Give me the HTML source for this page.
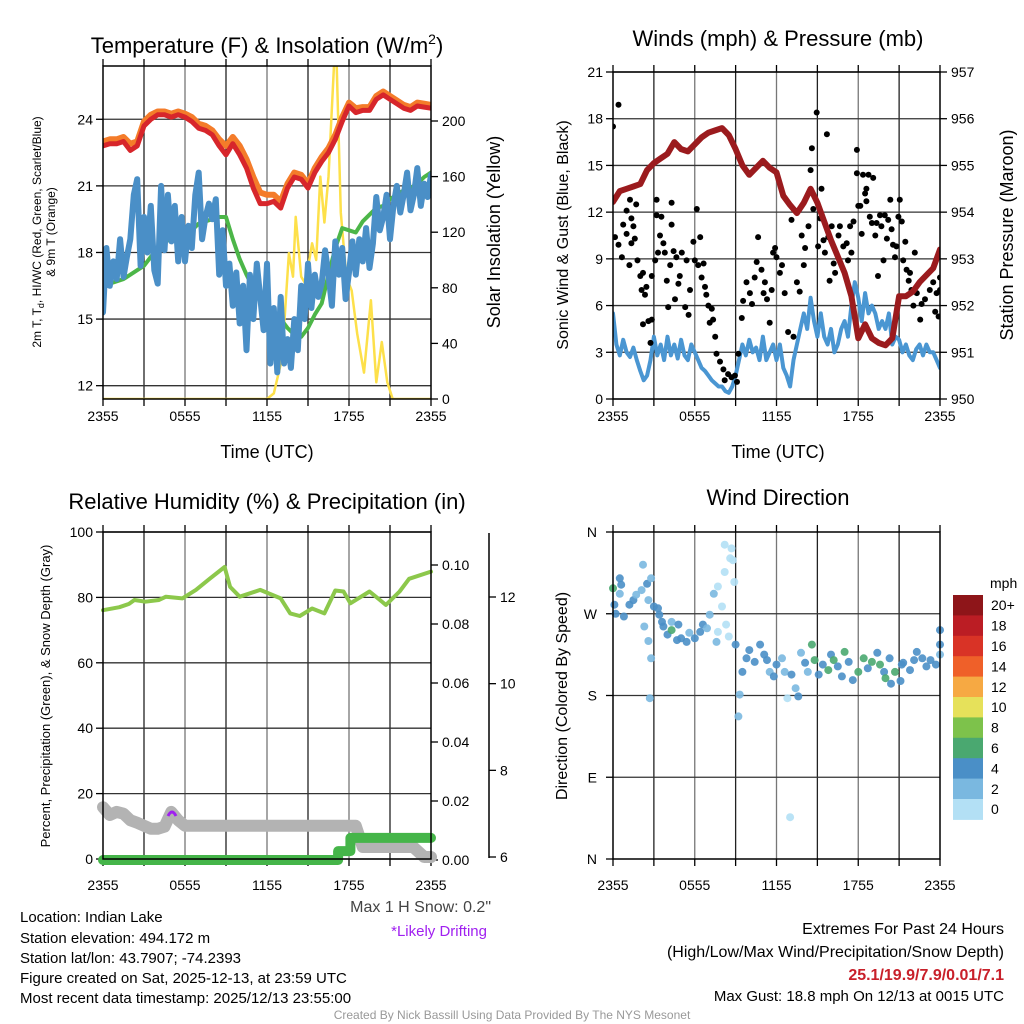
<!DOCTYPE html>
<html><head><meta charset="utf-8"><title>Indian Lake Meteogram</title>
<style>
html,body{margin:0;padding:0;background:#fff;}
svg{display:block;font-family:"Liberation Sans",Arial,sans-serif;}
</style></head>
<body>
<svg id="chart" xmlns="http://www.w3.org/2000/svg" width="1024" height="1024" viewBox="0 0 1024 1024">
<rect x="0" y="0" width="1024" height="1024" fill="#fff"/>
<defs>
<clipPath id="c1"><rect x="103" y="66" width="328" height="333"/></clipPath>
<clipPath id="c2"><rect x="613" y="72" width="327" height="327"/></clipPath>
<clipPath id="c3"><rect x="90" y="520" width="355" height="352"/></clipPath>
<clipPath id="c4"><rect x="603" y="522" width="347" height="347"/></clipPath>
</defs>
<g font-size="22" text-anchor="middle" fill="#000">
<text x="267" y="53">Temperature (F) &amp; Insolation (W/m<tspan font-size="14" dy="-9">2</tspan><tspan dy="9">)</tspan></text>
<text x="778" y="46">Winds (mph) &amp; Pressure (mb)</text>
<text x="267" y="509">Relative Humidity (%) &amp; Precipitation (in)</text>
<text x="778" y="505">Wind Direction</text>
</g>
<g font-size="18" text-anchor="middle">
<text x="267" y="458">Time (UTC)</text>
<text x="778" y="458">Time (UTC)</text>
<text transform="translate(500,232) rotate(-90)">Solar Insolation (Yellow)</text>
<text transform="translate(1013,235) rotate(-90)">Station Pressure (Maroon)</text>
</g>
<g font-size="16" text-anchor="middle">
<text transform="translate(568,235) rotate(-90)">Sonic Wind &amp; Gust (Blue, Black)</text>
<text transform="translate(567,696) rotate(-90)">Direction (Colored By Speed)</text>
</g>
<g font-size="12" text-anchor="middle">
<text transform="translate(41,232) rotate(-90)">2m T, T<tspan font-size="9" dy="3">d</tspan><tspan dy="-3">, HI/WC (Red, Green, Scarlet/Blue)</tspan></text>
<text transform="translate(55,232) rotate(-90)">&amp; 9m T (Orange)</text>
<text transform="translate(50,696) rotate(-90)" font-size="13">Percent, Precipitation (Green), &amp; Snow Depth (Gray)</text>
</g>
<g font-size="15" fill="#000">
<text x="20" y="922">Location: Indian Lake</text>
<text x="20" y="943">Station elevation: 494.172 m</text>
<text x="20" y="963">Station lat/lon: 43.7907; -74.2393</text>
<text x="20" y="983">Figure created on Sat, 2025-12-13, at 23:59 UTC</text>
<text x="20" y="1003">Most recent data timestamp: 2025/12/13 23:55:00</text>
<text x="491" y="912" text-anchor="end" fill="#444" font-size="16">Max 1 H Snow: 0.2"</text>
<text x="487" y="936" text-anchor="end" fill="#a020f0">*Likely Drifting</text>
<text x="1004" y="934" text-anchor="end" font-size="16">Extremes For Past 24 Hours</text>
<text x="1004" y="957" text-anchor="end" font-size="16">(High/Low/Max Wind/Precipitation/Snow Depth)</text>
<text x="1004" y="980" text-anchor="end" font-size="16" font-weight="bold" fill="#c8202a">25.1/19.9/7.9/0.01/7.1</text>
<text x="1004" y="1001" text-anchor="end">Max Gust: 18.8 mph On 12/13 at 0015 UTC</text>
<text x="512" y="1019" text-anchor="middle" font-size="12" fill="#999">Created By Nick Bassill Using Data Provided By The NYS Mesonet</text>
</g>
</svg>
<script>
// ---------- DATA ----------
const xTickLabels = ["2355","0555","1155","1755","2355"];
const tempTicks = [12,15,18,21,24];
const solarTicks = [0,40,80,120,160,200];
const windTicks = [0,3,6,9,12,15,18,21];
const pressTicks = [950,951,952,953,954,955,956,957];
const rhTicks = [0,20,40,60,80,100];
const precipTicks = [0.00,0.02,0.04,0.06,0.08,0.10];
const snowTicks = [6,8,10,12];
const dirTickLabels = ["N","E","S","W","N"];
const dirTickValues = [0,90,180,270,360];

const tempRed = [22.8,22.9,22.9,23.0,22.6,22.8,23.7,24.0,24.2,24.2,24.1,24.2,24.1,23.9,23.6,23.5,23.3,22.8,22.4,22.9,22.4,21.8,20.9,20.2,20.2,20.3,20.0,20.9,21.4,21.3,20.9,21.6,22.1,22.5,23.1,23.9,24.6,24.3,24.4,24.4,24.9,25.1,24.9,24.7,24.5,24.4,24.6,24.55,24.5];
const temp9m = [23.0,23.1,23.1,23.2,22.9,23.0,23.9,24.2,24.35,24.35,24.25,24.35,24.25,24.1,23.8,23.7,23.5,23.1,22.8,23.2,22.8,22.2,21.4,20.7,20.6,20.6,20.3,21.1,21.6,21.5,21.1,21.8,22.3,22.7,23.3,24.1,24.75,24.5,24.55,24.55,25.05,25.25,25.05,24.85,24.65,24.55,24.75,24.7,24.65];
const dewpoint = [16.4,16.6,16.7,16.8,17.0,17.2,17.4,17.8,18.2,18.5,18.6,18.7,18.8,19.0,19.3,19.4,19.5,19.6,19.6,18.6,17.7,17.0,16.4,16.0,15.5,15.3,15.0,14.6,14.3,14.2,14.6,15.2,15.7,17.0,18.2,19.1,19.0,18.9,19.4,19.7,20.0,20.1,20.4,20.6,20.8,20.9,21.1,21.4,21.6];
const windChill = [15.3,18.2,16.5,17.6,16.8,18.6,16.9,17.8,18.6,20.6,21.3,17.4,19.6,18.0,20.1,17.2,16.6,21.0,18.1,20.6,18.5,20.1,17.6,19.6,17.6,19.2,18.2,20.6,21.6,18.6,19.6,20.2,19.5,20.4,17.0,19.0,16.5,17.5,15.6,17.1,14.8,16.5,13.6,17.0,15.0,17.5,16.0,14.5,17.5,13.0,15.5,12.6,16.0,13.0,14.1,12.8,15.0,13.6,16.5,15.0,17.5,15.5,17.0,16.0,16.6,18.1,17.0,15.6,18.5,17.0,18.2,15.9,17.1,18.5,17.0,18.6,17.6,19.1,17.3,18.4,20.5,19.0,19.6,20.6,18.6,20.1,21.0,19.8,20.6,21.6,19.9,20.6,21.8,20.1,21.1,20.5,21.5];
const solarHours = [0,12,12.5,13,13.3,13.6,13.9,14.1,14.5,14.8,15.3,15.6,15.9,16.2,16.5,16.9,17.1,17.4,17.8,18.2,18.6,19.1,19.6,20.0,20.4,20.8,21.2,24];
const solarValues = [0,0,4,25,60,105,88,131,88,83,112,100,160,127,160,240,240,134,88,78,47,19,71,12,41,12,0,0];

const sonicWind = [5.5,3.5,2.8,3.8,3.0,2.7,3.3,2.5,1.8,1.2,1.5,2.5,4.0,2.8,3.5,2.5,4.0,2.8,3.5,2.6,3.8,2.8,2.5,3.5,3.0,2.5,2.0,1.8,1.5,1.2,1.0,0.8,0.8,0.5,0.4,0.8,1.5,2.5,3.5,2.8,3.8,3.0,3.3,2.5,4.0,2.5,3.0,3.5,2.5,3.5,2.0,1.5,0.8,2.5,3.5,4.5,5.5,4.5,6.5,5.0,4.0,5.5,4.0,3.5,4.5,3.0,3.5,4.5,5.0,4.0,6.0,7.5,6.5,5.0,6.8,5.5,6.0,5.5,4.5,5.0,4.5,5.5,3.5,4.0,3.8,3.0,3.5,2.8,2.5,3.2,3.5,2.8,3.5,3.0,3.0,2.5,2.0];
const pressure = [954.22,954.45,954.5,954.55,954.6,954.9,955.05,955.15,955.25,955.5,955.35,955.3,955.45,955.6,955.7,955.75,955.8,955.65,955.35,955.0,954.8,954.95,955.1,954.95,954.85,954.35,954.15,953.98,954.2,954.5,954.2,953.8,953.4,953.05,952.7,952.2,951.3,951.6,951.3,951.2,951.15,951.3,952.2,952.2,952.3,952.5,952.65,952.8,953.2];
const gustHours = [0.0,0.4,0.15,0.4,0.65,0.75,1.0,1.0,1.25,1.35,1.35,1.5,1.6,1.7,1.2,1.8,2.0,2.1,2.2,2.35,2.45,2.2,2.6,2.75,2.85,2.85,3.1,3.2,3.2,3.3,3.45,3.55,3.7,3.8,3.95,4.05,4.2,4.3,4.3,4.45,4.55,4.65,4.8,4.9,5.05,5.3,5.4,5.55,5.65,5.9,6.0,6.15,6.25,6.4,6.5,6.65,6.75,6.85,7.0,7.1,7.25,7.35,7.5,7.6,7.85,8.1,8.2,8.45,8.7,8.95,9.1,9.2,9.45,9.55,9.8,10.05,10.2,10.4,10.55,10.65,10.9,11.05,11.15,11.3,11.5,11.65,11.75,11.9,12.0,12.25,12.4,12.6,12.85,13.1,13.25,13.5,13.7,13.85,14.0,14.1,14.35,14.5,14.6,14.7,14.95,15.05,15.2,15.3,15.45,15.55,15.7,15.8,15.9,16.05,16.2,16.3,16.55,16.65,16.9,17.15,17.25,17.4,17.5,17.65,17.9,17.9,18.0,18.15,18.25,18.35,18.5,18.6,18.6,18.75,18.85,19.0,19.1,19.25,19.35,19.45,19.6,19.7,19.85,19.95,20.1,20.2,20.35,20.45,20.55,20.7,20.8,20.95,21.05,21.2,21.3,21.45,21.55,21.7,21.8,21.9,22.05,22.15,22.3,22.55,22.65,22.9,23.25,23.5,23.65,23.75,23.9,24.0,24.0];
const gustSpeeds = [17.5,18.9,10.4,9.9,9.1,11.2,12.1,10.6,12.8,11.6,10.0,11.1,10.3,12.5,8.6,8.9,7.9,7.0,8.1,6.7,7.2,4.8,5.0,3.6,5.1,7.9,8.9,12.8,11.8,9.4,10.5,11.7,10.0,9.4,7.6,5.9,8.6,11.2,12.6,9.5,6.4,9.1,7.4,7.9,9.4,5.9,8.9,5.4,7.0,10.1,8.9,12.2,8.6,10.4,7.8,8.7,7.2,6.7,6.0,4.9,5.8,5.1,4.0,2.9,2.4,1.9,1.2,1.6,1.4,1.5,1.1,2.9,5.2,6.3,7.5,6.8,6.1,7.8,8.8,10.4,8.3,6.8,7.5,6.4,4.9,7.0,9.4,9.7,9.1,8.1,8.6,6.8,4.3,11.5,4.0,7.5,6.9,10.5,8.6,9.7,11.1,14.7,16.1,12.2,18.4,9.8,11.6,13.5,10.2,9.4,17.0,10.4,7.6,11.1,8.7,8.1,10.5,11.1,9.8,10.0,8.9,11.1,9.4,11.4,16.0,14.5,12.4,12.4,10.6,14.4,13.2,13.5,12.7,14.4,11.7,11.3,14.2,10.5,11.3,7.9,11.8,11.1,8.9,11.8,10.3,11.5,12.8,10.9,9.9,9.1,9.8,11.7,12.8,11.4,8.9,10.1,8.3,7.6,8.1,7.0,6.0,9.4,6.8,5.1,6.1,6.4,7.0,7.5,5.6,6.8,5.3,7.8,7.0];

const rhHours = [0,1.2,1.9,2.3,3.1,4.1,4.6,5.8,6.8,7.8,8.9,9.3,10,11.5,13,13.7,14.4,15.3,16.2,17,17.6,18.1,19.5,20.7,21.7,22.4,24];
const rhValues = [76.1,77,78,79.2,78.7,79.2,80.2,79.7,82.3,85.7,89.3,83.2,80.2,82.3,79.7,75.1,74.3,76.6,75.1,82.1,81.8,78.2,81.8,77.7,81.8,85.7,87.9];
const snowHours = [0,0.5,1,1.5,2,2.5,3,3.5,4,4.5,5.0,5.5,6,18.5,19,22.7,23.5,24];
const snowDepth = [7.15,6.97,7.04,7.0,6.85,6.79,6.72,6.65,6.65,6.7,7.04,6.85,6.72,6.72,6.23,6.23,6.0,6.0];
const precipHours = [0,17.2,17.2,18.1,18.1,24];
const precipValues = [0,0,0.003,0.003,0.0075,0.0075];

const dirHours = [0.0,0.5,0.6,0.5,0.1,0.2,0.8,1.2,1.5,1.7,2.1,2.2,2.5,2.8,2.6,3.0,3.3,3.4,2.3,2.6,2.8,2.7,3.6,3.7,4.0,4.3,4.3,4.8,4.7,5.0,5.4,5.6,6.0,6.4,6.6,6.9,7.1,7.4,7.6,7.7,7.7,8.0,8.2,8.2,8.3,8.5,8.6,8.7,8.8,8.9,9.0,9.3,9.2,9.5,9.8,10.0,10.4,10.8,11.1,11.3,11.5,11.8,12.0,12.4,12.6,12.8,13.0,13.1,13.4,13.6,13.8,14.1,14.3,14.6,14.8,15.1,15.4,15.8,16.0,16.2,16.5,16.8,17.0,17.3,17.6,18.0,18.4,18.7,19.0,19.4,19.6,19.9,20.0,20.3,20.4,20.7,21.1,21.2,21.3,21.8,22.1,22.3,22.7,23.0,23.3,23.7,24.0,24.0,24.0];
const dirDegs = [298,309,302,292,280,270,267,280,285,291,296,324,303,309,285,278,276,269,256,240,221,177,261,256,247,252,261,258,241,243,239,249,243,250,258,254,269,292,239,250,300,278,316,346,258,245,331,342,329,305,236,181,157,206,221,230,217,236,225,219,206,201,214,221,206,177,46,203,188,179,227,216,206,236,219,203,214,208,225,219,212,201,228,217,197,206,221,210,217,227,214,206,199,221,193,206,196,214,216,208,219,228,221,212,219,214,225,236,252];
const dirSpeeds = [6.5,4.5,4.5,3,4.5,4.5,4.5,4.5,4.5,3,3,2.8,4.5,3,3,4.5,4.5,4.5,3,3,3,3,4.5,4.5,4.5,6.5,3,4.5,4.5,4.5,4.5,3,4.5,4.5,4.5,3,3,3,3,1,1,1,1,1,1,1,1,1,1,1,4.5,3,3,4.5,4.5,4.5,4.5,4.5,4.5,4.5,3,4.5,4.5,3,3,1,1,4.5,3,4.5,3,4.5,3,6.5,6.5,4.5,4.5,6.5,4.5,6.5,4.5,4.5,6.5,4.5,4.5,6.5,6.5,4.5,6.5,4.5,6.5,4.5,6.5,4.5,4.5,6.5,4.5,4.5,4.5,4.5,4.5,4.5,4.5,4.5,4.5,4.5,3,4.5,4.5];

const speedBinLabels = ["0","2","4","6","8","10","12","14","16","18","20+"];
const speedColors = ["#b3e0f5","#7ab8e0","#4a8fc7","#4aa870","#7dc24b","#e6e15a","#f6a943","#ef6029","#d93326","#bb1d24","#8e1519"];

// ---------- HELPERS ----------
const NS = "http://www.w3.org/2000/svg";
const svg = document.getElementById("chart");
function add(parent, tag, attrs, name, inter) {
  const el = document.createElementNS(NS, tag);
  for (const k in attrs) el.setAttribute(k, attrs[k]);
  
  
  parent.appendChild(el);
  return el;
}
function lin(d0, d1, r0, r1) { return v => r0 + (v - d0) * (r1 - r0) / (d1 - d0); }
function evenHours(n) { const a = []; for (let i = 0; i < n; i++) a.push(24 * i / (n - 1)); return a; }
function pathFrom(xs, ys, sx, sy) {
  let d = "";
  for (let i = 0; i < xs.length; i++) d += (i ? "L" : "M") + sx(xs[i]).toFixed(1) + "," + sy(ys[i]).toFixed(1);
  return d;
}
function line(g, xs, ys, sx, sy, color, w, name, clip) {
  const el = add(g, "path", {d: pathFrom(xs, ys, sx, sy), fill: "none", stroke: color, "stroke-width": w, "stroke-linejoin": "round", "stroke-linecap": "round", "clip-path": "url(#" + clip + ")"}, name, false);
  return el;
}
function text(g, x, y, s, anchor, size, name, fill) {
  const t = add(g, "text", {x: x, y: y, "text-anchor": anchor, "font-size": size, fill: fill || "#000"}, name, false);
  t.textContent = s;
  return t;
}

function frame(g, x0, y0, x1, y1, pre) {
  add(g, "rect", {x: x0, y: y0, width: x1 - x0, height: y1 - y0, fill: "none", stroke: "#000", "stroke-width": 1.5}, pre + "-plot-frame", false);
}
function timeAxis(g, sx, y0, y1, pre, labelY) {
  for (let h = 3; h < 24; h += 3) {
    add(g, "line", {x1: sx(h), x2: sx(h), y1: y0, y2: y1, stroke: (h % 6 === 0) ? "#777" : "#222", "stroke-width": 1.3}, pre + "-v-grid", false);
  }
  for (let h = 0; h <= 24; h += 3) {
    add(g, "line", {x1: sx(h), x2: sx(h), y1: y1, y2: y1 + 7, stroke: "#000", "stroke-width": 1.3}, pre + "-x-tick", false);
    add(g, "line", {x1: sx(h), x2: sx(h), y1: y0, y2: y0 - 7, stroke: "#000", "stroke-width": 1.3}, pre + "-x-tick-top", false);
  }
  xTickLabels.forEach((s, i) => text(g, sx(i * 6), labelY, s, "middle", 14, pre + "-x-tick-label"));
}
function yAxisLeft(g, ticks, sy, x0, x1, pre, fmt, grid) {
  ticks.forEach(v => {
    const y = sy(v);
    if (grid) add(g, "line", {x1: x0, x2: x1, y1: y, y2: y, stroke: "#333", "stroke-width": 1.3}, pre + "-h-grid", false);
    add(g, "line", {x1: x0 - 7, x2: x0, y1: y, y2: y, stroke: "#000", "stroke-width": 1.3}, pre + "-y-tick", false);
    text(g, x0 - 10, y + 5, fmt(v), "end", 14, pre + "-y-tick-label");
  });
}
function yAxisRight(g, ticks, sy, x, pre, fmt) {
  ticks.forEach(v => {
    const y = sy(v);
    add(g, "line", {x1: x, x2: x + 7, y1: y, y2: y, stroke: "#000", "stroke-width": 1.3}, pre + "-y2-tick", false);
    text(g, x + 11, y + 5, fmt(v), "start", 14, pre + "-y2-tick-label");
  });
}

// ---------- PANEL 1 ----------
(function () {
  const g = add(svg, "g", {}, "temperature-panel", false);
  const sx = lin(0, 24, 103, 431), sy = lin(11.4, 26.4, 399, 66), ss = lin(0, 240, 399, 65.4);
  timeAxis(g, sx, 66, 399, "p1", 421);
  yAxisLeft(g, tempTicks, sy, 103, 431, "p1", v => String(v), true);
  yAxisRight(g, solarTicks, ss, 431, "p1", v => String(v));
  const h49 = evenHours(49), h97 = evenHours(97);
  line(g, solarHours, solarValues, sx, ss, "#fde04a", 2.5, "solar-insolation-line", "c1");
  line(g, h49, dewpoint, sx, sy, "#4cb648", 4, "dewpoint-line", "c1");
  line(g, h97, windChill, sx, sy, "#4a8fc7", 6, "wind-chill-line", "c1");
  line(g, h49, temp9m, sx, sy, "#f47c2a", 6, "temp-9m-line", "c1");
  line(g, h49, tempRed, sx, sy, "#d7262b", 5, "temp-2m-line", "c1");
  frame(g, 103, 66, 431, 399, "p1");
})();

// ---------- PANEL 2 ----------
(function () {
  const g = add(svg, "g", {}, "winds-panel", false);
  const sx = lin(0, 24, 613, 940), sw = lin(0, 21, 399, 72), sp = lin(950, 957, 399, 72);
  timeAxis(g, sx, 72, 399, "p2", 421);
  yAxisLeft(g, windTicks, sw, 613, 940, "p2", v => String(v), true);
  yAxisRight(g, pressTicks, sp, 940, "p2", v => String(v));
  line(g, evenHours(97), sonicWind, sx, sw, "#4a96d2", 4, "sonic-wind-line", "c2");
  for (let i = 0; i < gustHours.length; i++) {
    const c = add(g, "circle", {cx: sx(gustHours[i]).toFixed(1), cy: sw(gustSpeeds[i]).toFixed(1), r: 3, fill: "#000", "clip-path": "url(#c2)"}, "gust-point", false);
  }
  line(g, evenHours(49), pressure, sx, sp, "#9b1b1e", 6, "pressure-line", "c2");
  frame(g, 613, 72, 940, 399, "p2");
})();

// ---------- PANEL 3 ----------
(function () {
  const g = add(svg, "g", {}, "humidity-panel", false);
  const sx = lin(0, 24, 103, 431), sr = lin(0, 100, 859, 532), spr = lin(0, 0.10, 860, 565), ssn = lin(6, 12, 857, 597);
  timeAxis(g, sx, 532, 859, "p3", 890);
  yAxisLeft(g, rhTicks, sr, 103, 431, "p3", v => String(v), true);
  yAxisRight(g, precipTicks, spr, 431, "p3", v => v.toFixed(2));
  add(g, "line", {x1: 489, x2: 489, y1: 533, y2: 858, stroke: "#000", "stroke-width": 1.5}, "snow-axis-line", false);
  snowTicks.forEach(v => {
    add(g, "line", {x1: 489, x2: 496, y1: ssn(v), y2: ssn(v), stroke: "#000", "stroke-width": 1.3}, "snow-axis-tick", false);
    text(g, 500, ssn(v) + 5, String(v), "start", 14, "snow-axis-tick-label");
  });
  line(g, snowHours, snowDepth, sx, ssn, "#b3b3b3", 12, "snow-depth-line", "c3");
  add(g, "path", {d: "M168,816 Q172,808 176,816", fill: "none", stroke: "#a020f0", "stroke-width": 3}, "drifting-marker", false);
  line(g, precipHours, precipValues, sx, spr, "#45b549", 10, "precipitation-line", "c3");
  line(g, rhHours, rhValues, sx, sr, "#8cc84b", 4, "relative-humidity-line", "c3");
  frame(g, 103, 532, 431, 859, "p3");
})();

// ---------- PANEL 4 ----------
(function () {
  const g = add(svg, "g", {}, "wind-direction-panel", false);
  const sx = lin(0, 24, 613, 940), sd = lin(0, 360, 859, 532);
  timeAxis(g, sx, 532, 859, "p4", 890);
  dirTickValues.forEach((v, i) => {
    const y = sd(v);
    if (v > 0 && v < 360) add(g, "line", {x1: 613, x2: 940, y1: y, y2: y, stroke: "#333", "stroke-width": 1.3}, "p4-h-grid", false);
    add(g, "line", {x1: 606, x2: 613, y1: y, y2: y, stroke: "#000", "stroke-width": 1.3}, "p4-y-tick", false);
    text(g, 597, y + 5, dirTickLabels[i], "end", 14, "p4-y-tick-label");
  });
  for (let i = 0; i < dirHours.length; i++) {
    const bin = Math.min(10, Math.floor(dirSpeeds[i] / 2));
    const c = add(g, "circle", {cx: sx(dirHours[i]).toFixed(1), cy: sd(dirDegs[i]).toFixed(1), r: 4, fill: speedColors[bin], "fill-opacity": 0.9, "clip-path": "url(#c4)"}, "direction-point", false);
  }
  frame(g, 613, 532, 940, 859, "p4");
  // colorbar
  const cb = add(svg, "g", {}, "speed-colorbar", false);
  text(cb, 990, 588, "mph", "start", 14, "colorbar-title");
  const top = 595, bh = 20.4;
  for (let i = 0; i < speedColors.length; i++) {
    const k = speedColors.length - 1 - i;
    add(cb, "rect", {x: 953, y: top + i * bh, width: 30, height: bh + 0.5, fill: speedColors[k]}, "colorbar-box", false);
    text(cb, 991, top + i * bh + bh / 2 + 5, speedBinLabels[k], "start", 14, "colorbar-label");
  }
})();
</script>
</body></html>
